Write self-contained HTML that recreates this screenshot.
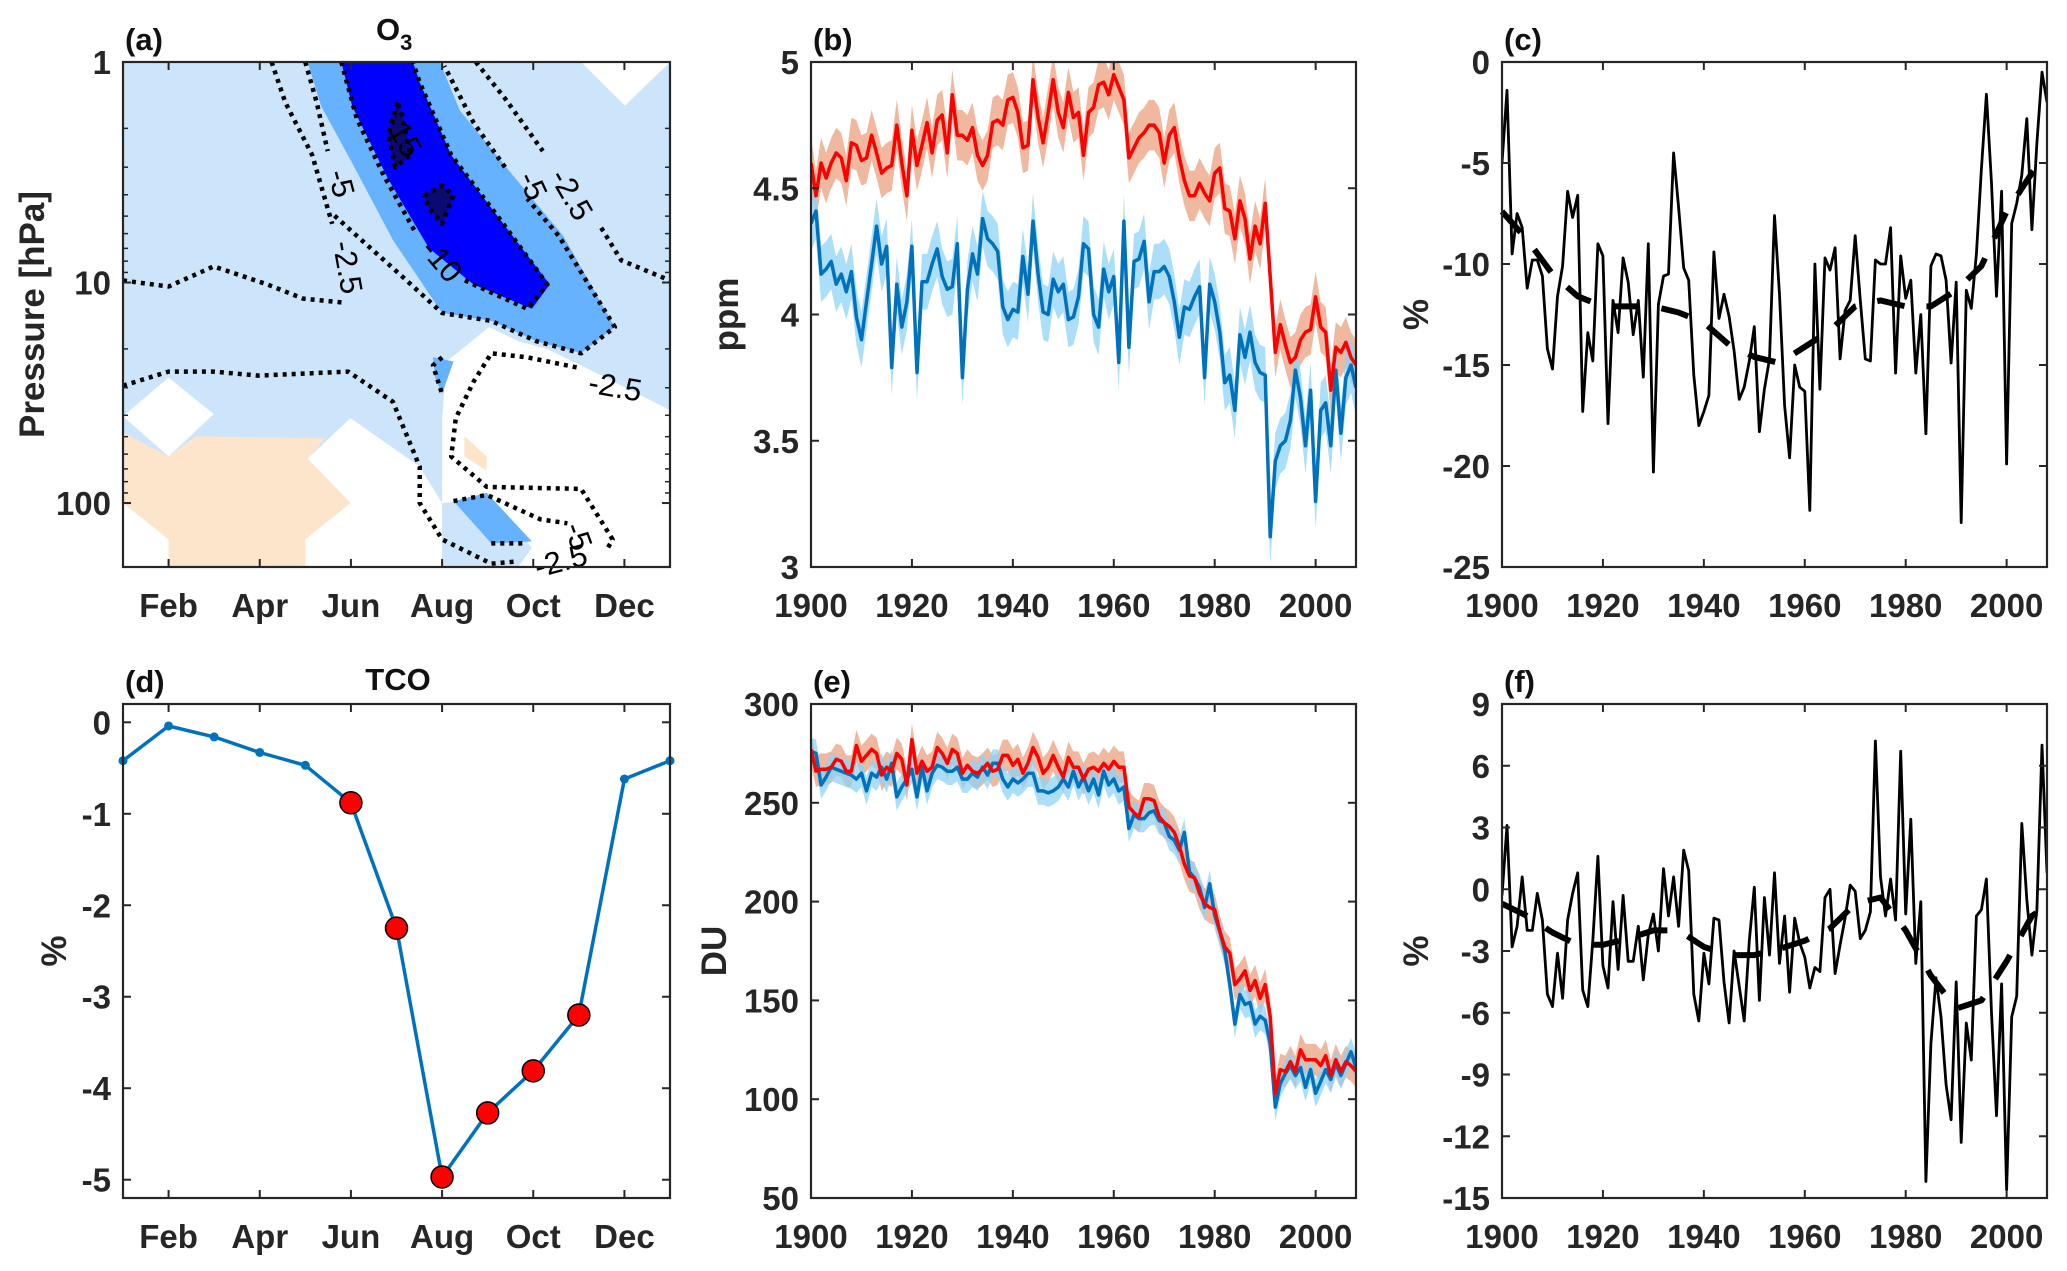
<!DOCTYPE html>
<html><head><meta charset="utf-8">
<style>
html,body{margin:0;padding:0;background:#fff;}
svg text{font-family:"Liberation Sans",Arial,sans-serif;}
</style></head>
<body>
<svg id="fig" xmlns="http://www.w3.org/2000/svg" width="2067" height="1266" viewBox="0 0 2067 1266"></svg>
<script>
// ---------- data ----------
const years = []; for (let y = 1900; y <= 2008; y++) years.push(y);
const bRed = [4.6,4.47,4.6,4.54,4.6,4.64,4.62,4.53,4.68,4.67,4.61,4.62,4.71,4.64,4.56,4.58,4.59,4.75,4.6,4.47,4.73,4.59,4.67,4.76,4.64,4.77,4.79,4.64,4.87,4.71,4.71,4.69,4.74,4.63,4.59,4.63,4.76,4.77,4.75,4.85,4.86,4.8,4.66,4.67,4.93,4.78,4.68,4.8,4.93,4.8,4.74,4.88,4.78,4.8,4.63,4.8,4.82,4.91,4.92,4.87,4.95,4.9,4.85,4.62,4.66,4.7,4.72,4.75,4.75,4.72,4.6,4.71,4.74,4.62,4.53,4.47,4.47,4.52,4.48,4.45,4.56,4.58,4.42,4.41,4.3,4.45,4.38,4.22,4.35,4.28,4.44,4.15,3.85,3.96,3.88,3.81,3.83,3.9,3.93,3.94,4.07,3.95,3.93,3.7,3.87,3.85,3.89,3.83,3.8];
const bBlue = [4.36,4.41,4.16,4.18,4.21,4.12,4.16,4.09,4.17,3.99,3.9,4.05,4.2,4.35,4.2,4.27,3.79,4.12,3.95,4.05,4.27,3.77,4.13,4.13,4.2,4.26,4.15,4.1,4.11,4.28,3.75,4.1,4.24,4.16,4.38,4.3,4.28,4.25,4.03,3.98,4.02,4.01,4.23,4.08,4.37,4.16,4.01,4.0,4.14,4.09,4.12,3.98,3.99,4.07,4.28,4.26,4.0,3.95,4.18,4.09,4.15,3.81,4.37,3.87,4.21,4.22,4.29,4.05,4.17,4.17,4.19,4.15,4.05,3.91,4.03,4.02,4.07,4.11,3.75,4.12,4.05,3.93,3.73,3.76,3.62,3.92,3.83,3.93,3.81,3.77,3.76,3.12,3.42,3.48,3.5,3.58,3.78,3.67,3.48,3.7,3.26,3.62,3.65,3.48,3.78,3.53,3.75,3.8,3.71];
const bSpread = [0.1, 0.11];
const cVals = [-5,-1.4,-9.5,-7.5,-8.2,-11.2,-9.8,-9.8,-10.6,-14.2,-15.2,-11.6,-10.1,-6.4,-7.7,-6.6,-17.3,-13.4,-14.8,-9,-9.6,-17.9,-11.8,-13.4,-9.7,-10.9,-13.5,-11.8,-15.6,-9,-20.3,-12,-10.6,-10.5,-4.5,-7.2,-10.2,-10.8,-15.5,-18,-17.3,-16.5,-9.4,-12.7,-11.5,-12.6,-14.3,-16.7,-16.1,-14.8,-13.1,-18.3,-16.2,-14.7,-7.6,-11.5,-17,-19.6,-15,-16.1,-16.3,-22.2,-10,-16.2,-9.7,-10.3,-9.2,-14.7,-12.3,-11.8,-8.6,-11.8,-14.7,-14.8,-9.8,-10,-10,-8.2,-15.4,-9.6,-11.7,-10.8,-15.4,-12.5,-18.4,-10.1,-9.5,-9.6,-10.8,-14.9,-10.9,-22.8,-11.3,-12.2,-9.5,-5.3,-1.6,-6,-11.6,-6.4,-19.9,-8,-7,-5.6,-2.8,-8.3,-4,-0.5,-2];
const trendYears = [1900,1905,1910,1915,1920,1925,1930,1935,1940,1945,1950,1955,1960,1965,1970,1975,1980,1985,1990,1995,2000,2005,2008];
const cTrend = [-7.4,-8.8,-10.5,-11.6,-12.1,-12.1,-12.1,-12.4,-12.9,-14,-14.6,-14.9,-14.1,-13.3,-12.1,-11.8,-12.1,-12.1,-11.3,-10.1,-7.4,-5.5,-4.6];
const eRed = [277,266,267,267,268,272,271,266,266,279,271,274,277,275,264,268,266,275,272,259,282,265,271,266,268,278,275,270,277,275,265,269,266,265,267,270,266,267,274,274,269,272,265,270,278,273,265,268,274,268,263,273,268,268,262,267,268,266,270,267,271,268,268,248,245,243,252,252,251,243,240,238,235,228,219,213,212,204,199,197,196,185,177,174,158,161,165,155,160,151,158,142,103,115,114,119,114,125,120,120,120,117,122,112,120,114,119,117,114];
const eBlue = [276,275,259,263,268,267,266,265,264,262,265,256,265,263,268,262,270,253,258,262,267,253,268,256,265,269,268,266,266,268,262,262,265,263,268,264,270,270,262,258,262,260,262,265,265,256,256,255,256,258,262,258,266,258,263,256,262,254,266,259,262,256,258,237,244,242,242,245,246,241,240,233,231,226,235,215,212,207,197,209,193,185,175,158,138,153,148,149,138,142,140,128,96,108,113,117,112,116,106,115,103,109,115,110,118,112,118,124,116];
const eSpread = [8, 7];
const fVals = [-0.3,3.1,-2.8,-1.8,0.6,-2,-2,-0.2,-1.5,-5.1,-5.7,-3.1,-5.3,-1.5,-0.2,0.8,-4.9,-5.7,-2.5,1.6,-3.7,-4.8,-0.6,-3.9,-0.3,-3.5,-3.5,-1.8,-4.4,-2.2,-1.2,-3,1,-1.3,0.6,-1.8,1.9,0.9,-5.1,-6.4,-3.1,-4.6,-1.4,-1.5,-4.5,-6.5,-3,-4.7,-6.4,-2.5,0.1,-5.4,-0.4,-3.2,0.8,-3.6,-1.3,-5,-1.4,-2.6,-3.3,-4.8,-3.8,-4,-0.4,0,-4.1,-2.7,-1.4,0.2,-0.1,-2.4,-2,-1.1,7.2,0.6,-1.3,0.5,-1.5,6.7,-1.2,3.4,-3.6,-0.6,-14.2,-7.5,-4.3,-6.2,-9.5,-11.2,-4.5,-12.3,-6.5,-8.3,-1.3,-1,0.5,-6,-11,-4.6,-14.6,-6.2,-5.2,3.2,-0.5,-3.2,-1,7,0.8];
const fTrend = [-0.7,-1.3,-2.1,-2.7,-2.7,-2.4,-2,-2,-2.8,-3.2,-3.2,-2.9,-2.5,-1.9,-0.7,-0.4,-2,-4.2,-5.8,-5.4,-3.5,-1.3,-0.8];
const months = [1,2,3,4,5,6,7,8,9,10,11,12,13];
const tco = [-0.42,-0.04,-0.16,-0.33,-0.47,-0.88,-2.25,-4.97,-4.27,-3.81,-3.2,-0.62,-0.42];
const tcoSignif = [0,0,0,0,0,1,1,1,1,1,1,0,0];
const monthTicks = [2,4,6,8,10,12];
const monthLabels = ["Feb","Apr","Jun","Aug","Oct","Dec"];
const yearTicks = [1900,1920,1940,1960,1980,2000];
// panel (a) contour regions in [month, log10(hPa)]
const aWhiteTR = [[11.05,0],[12.01,0.198],[13,0]];
const aWhiteDiamond = [[1,1.606],[2,1.431],[2.99,1.596],[2,1.789]];
const aPeach = [[1,1.679],[2,1.789],[2.59,1.697],[5.44,1.706],[5.05,1.798],[5.99,2.0],[5.0,2.165],[5.0,2.29],[2,2.29],[2,2.165],[1,2.0]];
const aWhiteBL = [[1,2.0],[2,2.165],[2,2.29],[1,2.29]];
const aWhiteMid = [[5.05,1.798],[5.99,1.615],[7.51,1.835],[8.0,2.0],[8.0,2.29],[5.0,2.29],[5.0,2.165],[5.99,2.0]];
const aWhiteRight = [[8.0,1.615],[8.1,1.358],[9.03,1.202],[9.67,1.266],[10.31,1.303],[11.05,1.376],[13,1.578],[13,2.29],[9.67,2.29],[9.97,2.202],[8.98,1.982],[8.0,2.0]];
const aPeachSmall = [[8.49,1.697],[8.98,1.789],[8.98,1.853],[8.49,1.789]];
const aMid = [[5.05,0],[5.35,0.202],[6.03,0.459],[6.92,0.807],[8.0,1.138],[9.08,1.174],[10.07,1.266],[11.05,1.321],[11.79,1.202],[10.66,0.789],[9.48,0.495],[8.39,0.22],[7.95,0]];
const aBlue = [[5.79,0],[6.03,0.202],[6.82,0.532],[7.71,0.844],[8.69,1.009],[9.97,1.119],[10.36,1.009],[9.28,0.716],[8.2,0.422],[7.51,0.092],[7.36,0]];
const aNavy1 = [[7.02,0.183],[6.82,0.33],[6.97,0.477],[7.31,0.422],[7.12,0.239]];
const aNavy2 = [[7.61,0.606],[8.0,0.56],[8.25,0.606],[8.0,0.734],[7.71,0.661]];
const aMidSmall = [[7.8,1.339],[8.25,1.358],[8.0,1.505],[7.85,1.431]];
const aMidLow = [[8.25,1.991],[8.98,1.954],[9.97,2.174],[9.08,2.183]];
const aContours = [
 [[4.26,0],[4.56,0.183],[5.15,0.422],[5.59,0.734]],
 [[1,0.991],[2,1.018],[2.99,0.927],[4.17,1.009],[4.95,1.073],[5.89,1.092]],
 [[5.0,0],[5.25,0.183],[5.49,0.404]],
 [[5.64,0.697],[6.43,0.844],[7.12,0.972],[8.0,1.138],[9.08,1.174],[10.07,1.266],[11.05,1.321],[11.79,1.202],[10.56,0.789],[9.87,0.62]],
 [[9.38,0.477],[8.69,0.275],[8.05,0.018]],
 [[5.79,0],[6.13,0.257],[6.72,0.514],[7.41,0.771]],
 [[8.5,0.99],[8.69,1.009],[9.87,1.119],[10.31,1.009],[9.28,0.716],[8.2,0.422],[7.51,0.092],[7.36,0]],
 [[7.02,0.183],[6.82,0.33],[6.97,0.477],[7.31,0.422],[7.12,0.239],[7.02,0.183]],
 [[7.61,0.606],[8.0,0.56],[8.25,0.606],[8.0,0.734],[7.71,0.661],[7.61,0.606]],
 [[8.74,0],[9.38,0.165],[10.21,0.404]],
 [[11.49,0.752],[11.93,0.899],[13,0.991]],
 [[1,1.468],[2,1.404],[2.99,1.404],[3.97,1.422],[5.94,1.404],[6.92,1.541],[7.51,1.835],[7.51,2.0],[8.0,2.165],[9.08,2.275],[9.57,2.266]],
 [[8.0,1.339],[7.8,1.376],[8.0,1.505]],
 [[10.95,1.385],[9.87,1.339],[9.08,1.321],[8.69,1.45],[8.3,1.615],[8.2,1.789],[8.98,1.927],[11.05,1.936],[11.74,2.165],[11.64,2.202]],
 [[8.25,1.991],[8.98,1.963],[10.16,2.074],[10.75,2.092]],
 [[9.08,2.183],[9.77,2.183]]
];
const aLabelText = ["-2.5","-5","-10","-15","-5","-2.5","-2.5","-2.5","-5"];
const aLabelPos = [[5.94,0.93],[5.8,0.55],[8.0,0.9],[7.15,0.33],[10.0,0.56],[10.85,0.6],[11.8,1.47],[10.6,2.26],[11.0,2.15]];
const aLabelRot = [80,75,50,60,65,60,10,-15,70];

// ---------- drawing ----------
const NS = "http://www.w3.org/2000/svg";
const svg = document.getElementById('fig');
function mk(tag, parent, attrs) {
  const el = document.createElementNS(NS, tag);
  for (const k in attrs) el.setAttribute(k, attrs[k]);
  parent.appendChild(el);
  return el;
}
const TXT = "#262626";
const FS = 33;
function lin(d0, d1, p0, p1) { return v => p0 + (v - d0) / (d1 - d0) * (p1 - p0); }

function makeAxes(name, L, T, W, H, xd, yd) {
  const g = mk('g', svg, {});
  
  
  return { g, L, T, W, H, x: lin(xd[0], xd[1], L, L + W), y: lin(yd[0], yd[1], T + H, T) };
}
function frame(ax, name) {
  const r = mk('rect', ax.g, { x: ax.L, y: ax.T, width: ax.W, height: ax.H, fill: 'none', stroke: TXT, 'stroke-width': 2.2 });
  
  
}
function xTicks(ax, vals, labels, name) {
  vals.forEach((v, i) => {
    const px = ax.x(v);
    const t1 = mk('line', ax.g, { x1: px, x2: px, y1: ax.T + ax.H, y2: ax.T + ax.H - 8, stroke: TXT, 'stroke-width': 2 });
    
    
    const t2 = mk('line', ax.g, { x1: px, x2: px, y1: ax.T, y2: ax.T + 8, stroke: TXT, 'stroke-width': 2 });
    
    
    const tx = mk('text', ax.g, { x: px, y: ax.T + ax.H + 50, 'text-anchor': 'middle', 'font-size': FS, 'font-weight': 'bold', fill: TXT });
    tx.textContent = labels[i];
    
    
  });
}
function yTicks(ax, vals, labels, name) {
  vals.forEach((v, i) => {
    const py = ax.y(v);
    const t1 = mk('line', ax.g, { x1: ax.L, x2: ax.L + 8, y1: py, y2: py, stroke: TXT, 'stroke-width': 2 });
    
    
    const t2 = mk('line', ax.g, { x1: ax.L + ax.W, x2: ax.L + ax.W - 8, y1: py, y2: py, stroke: TXT, 'stroke-width': 2 });
    
    
    const tx = mk('text', ax.g, { x: ax.L - 12, y: py + 12, 'text-anchor': 'end', 'font-size': FS, 'font-weight': 'bold', fill: TXT });
    tx.textContent = labels[i];
    
    
  });
}
function yLabel(ax, x, text, name) {
  const cy = ax.T + ax.H / 2;
  const t = mk('text', ax.g, { x: x, y: cy, 'text-anchor': 'middle', 'font-size': 35, 'font-weight': 'bold', fill: TXT, transform: `rotate(-90 ${x} ${cy})` });
  t.textContent = text;
  
  
}
function panelLabel(ax, text, name) {
  const t = mk('text', ax.g, { x: ax.L + 2, y: ax.T - 12, 'font-size': 31, 'font-weight': 'bold', fill: '#111' });
  t.textContent = text;
  
  
}
function polyline(ax, xs, ys, attrs, nm) {
  const pts = xs.map((v, i) => ax.x(v).toFixed(1) + ',' + ax.y(ys[i]).toFixed(1)).join(' ');
  const p = mk('polyline', ax.g, Object.assign({ points: pts, fill: 'none', 'stroke-linejoin': 'round' }, attrs));
  
  
  return p;
}
function band(ax, xs, ys, sp, fill, nm) {
  const up = xs.map((v, i) => ax.x(v).toFixed(1) + ',' + ax.y(ys[i] + sp).toFixed(1));
  const dn = xs.map((v, i) => ax.x(v).toFixed(1) + ',' + ax.y(ys[i] - sp).toFixed(1)).reverse();
  const p = mk('polygon', ax.g, { points: up.concat(dn).join(' '), fill: fill, 'fill-opacity': 0.75, stroke: 'none' });
  
  
}
const defs = mk('defs', svg, {});
function clip(id, ax) {
  const cp = mk('clipPath', defs, { id: id });
  mk('rect', cp, { x: ax.L, y: ax.T, width: ax.W, height: ax.H });
}

const ROW1 = [62, 505], ROW2 = [704, 494];
const COL = [123, 811, 1502], CW = [547, 545, 545];

// ---- panel a ----
(function () {
  const ax = makeAxes('panel-a-o3-contour', COL[0], ROW1[0], CW[0], ROW1[1], [1, 13], [2.29, 0]);
  ax.y = lin(0, 2.29, ax.T, ax.T + ax.H);
  clip('clipA', ax);
  const cg = mk('g', ax.g, { 'clip-path': 'url(#clipA)' });
  
  
  const bg = mk('rect', cg, { x: ax.L, y: ax.T, width: ax.W, height: ax.H, fill: '#cce5fb' });
  
  
  const regions = [[aWhiteTR, '#ffffff', 'white-region'], [aWhiteDiamond, '#ffffff', 'white-region'], [aPeach, '#fde5cc', 'positive-region'], [aWhiteBL, '#ffffff', 'white-region'], [aWhiteMid, '#ffffff', 'white-region'], [aWhiteRight, '#ffffff', 'white-region'], [aPeachSmall, '#fde5cc', 'positive-region'], [aMid, '#66b2ff', 'fill-minus-5-level'], [aBlue, '#0000ff', 'fill-minus-10-level'], [aNavy1, '#0a0a70', 'fill-minus-15-level'], [aNavy2, '#0a0a70', 'fill-minus-15-level'], [aMidSmall, '#66b2ff', 'fill-minus-5-level'], [aMidLow, '#66b2ff', 'fill-minus-5-level']];
  regions.forEach(r => {
    const p = mk('polygon', cg, { points: r[0].map(q => ax.x(q[0]).toFixed(1) + ',' + ax.y(q[1]).toFixed(1)).join(' '), fill: r[1] });
    
    
  });
  aContours.forEach(c => {
    polyline(ax, c.map(q => q[0]), c.map(q => q[1]), { stroke: '#000', 'stroke-width': 4.5, 'stroke-dasharray': '4 5' }, 'contour-line');
  });
  aLabelText.forEach((t, i) => {
    const px = ax.x(aLabelPos[i][0]), py = ax.y(aLabelPos[i][1]);
    const tx = mk('text', ax.g, { x: px, y: py + 11, 'text-anchor': 'middle', 'font-size': 31, fill: '#000', transform: `rotate(${aLabelRot[i]} ${px} ${py})` });
    tx.textContent = t;
    
    
  });
  for (let d = 0; d < 3; d++) for (let k = 2; k <= 9; k++) {
    const lp = d + Math.log10(k); if (lp > 2.29) continue;
    const py = ax.y(lp);
    [[ax.L, ax.L + 5], [ax.L + ax.W, ax.L + ax.W - 5]].forEach(s => {
      const t = mk('line', ax.g, { x1: s[0], x2: s[1], y1: py, y2: py, stroke: TXT, 'stroke-width': 1.5 });
      
      
    });
  }
  frame(ax, 'panel-a');
  xTicks(ax, monthTicks, monthLabels, 'panel-a');
  yTicks(ax, [0, 1, 2], ['1', '10', '100'], 'panel-a');
  yLabel(ax, 44, 'Pressure [hPa]', 'panel-a');
  panelLabel(ax, '(a)', 'panel-a');
  const tt = mk('text', ax.g, { x: 376, y: 40, 'font-size': 31, 'font-weight': 'bold', fill: '#111' });
  tt.innerHTML = 'O<tspan font-size="22" dy="10">3</tspan>';
  
  
})();

// ---- panel b ----
(function () {
  const ax = makeAxes('panel-b-ppm-timeseries', COL[1], ROW1[0], CW[1], ROW1[1], [1900, 2008], [3, 5]);
  clip('clipB', ax);
  band(ax, years, bRed, bSpread[0], '#e9a07f', 'red-uncertainty-band');
  band(ax, years, bBlue, bSpread[1], '#8fd3f5', 'blue-uncertainty-band');
  ax.g.querySelectorAll('polygon').forEach(p => p.setAttribute('clip-path', 'url(#clipB)'));
  polyline(ax, years, bBlue, { stroke: '#0072bd', 'stroke-width': 3.5, 'clip-path': 'url(#clipB)' }, 'blue-series-line');
  polyline(ax, years, bRed, { stroke: '#ff0000', 'stroke-width': 3.5, 'clip-path': 'url(#clipB)' }, 'red-series-line');
  frame(ax, 'panel-b');
  xTicks(ax, yearTicks, yearTicks.map(String), 'panel-b');
  yTicks(ax, [3, 3.5, 4, 4.5, 5], ['3', '3.5', '4', '4.5', '5'], 'panel-b');
  yLabel(ax, 738, 'ppm', 'panel-b');
  panelLabel(ax, '(b)', 'panel-b');
})();

// ---- panel c ----
(function () {
  const ax = makeAxes('panel-c-percent-timeseries', COL[2], ROW1[0], CW[2], ROW1[1], [1900, 2008], [-25, 0]);
  clip('clipC', ax);
  polyline(ax, years, cVals, { stroke: '#000', 'stroke-width': 2.8, 'clip-path': 'url(#clipC)' }, 'percent-change-line');
  polyline(ax, trendYears, cTrend, { stroke: '#000', 'stroke-width': 6, 'stroke-dasharray': '28 22' }, 'trend-dashed-line');
  frame(ax, 'panel-c');
  xTicks(ax, yearTicks, yearTicks.map(String), 'panel-c');
  yTicks(ax, [-25, -20, -15, -10, -5, 0], ['-25', '-20', '-15', '-10', '-5', '0'], 'panel-c');
  yLabel(ax, 1428, '%', 'panel-c');
  panelLabel(ax, '(c)', 'panel-c');
})();

// ---- panel d ----
(function () {
  const ax = makeAxes('panel-d-tco-seasonal', COL[0], ROW2[0], CW[0], ROW2[1], [1, 13], [-5.2, 0.2]);
  polyline(ax, months, tco, { stroke: '#0072bd', 'stroke-width': 3.5 }, 'tco-line');
  months.forEach((m, i) => {
    const c = tcoSignif[i]
      ? mk('circle', ax.g, { cx: ax.x(m), cy: ax.y(tco[i]), r: 11, fill: '#ff0000', stroke: '#000', 'stroke-width': 1.5 })
      : mk('circle', ax.g, { cx: ax.x(m), cy: ax.y(tco[i]), r: 4.5, fill: '#0072bd' });
    
    
  });
  frame(ax, 'panel-d');
  xTicks(ax, monthTicks, monthLabels, 'panel-d');
  yTicks(ax, [-5, -4, -3, -2, -1, 0], ['-5', '-4', '-3', '-2', '-1', '0'], 'panel-d');
  yLabel(ax, 66, '%', 'panel-d');
  panelLabel(ax, '(d)', 'panel-d');
  const tt = mk('text', ax.g, { x: 398, y: ROW2[0] - 14, 'text-anchor': 'middle', 'font-size': 31, 'font-weight': 'bold', fill: '#111' });
  tt.textContent = 'TCO';
  
  
})();

// ---- panel e ----
(function () {
  const ax = makeAxes('panel-e-du-timeseries', COL[1], ROW2[0], CW[1], ROW2[1], [1900, 2008], [50, 300]);
  clip('clipE', ax);
  band(ax, years, eRed, eSpread[0], '#e9a07f', 'red-uncertainty-band');
  band(ax, years, eBlue, eSpread[1], '#8fd3f5', 'blue-uncertainty-band');
  ax.g.querySelectorAll('polygon').forEach(p => p.setAttribute('clip-path', 'url(#clipE)'));
  polyline(ax, years, eBlue, { stroke: '#0072bd', 'stroke-width': 3.5, 'clip-path': 'url(#clipE)' }, 'blue-series-line');
  polyline(ax, years, eRed, { stroke: '#ff0000', 'stroke-width': 3.5, 'clip-path': 'url(#clipE)' }, 'red-series-line');
  frame(ax, 'panel-e');
  xTicks(ax, yearTicks, yearTicks.map(String), 'panel-e');
  yTicks(ax, [50, 100, 150, 200, 250, 300], ['50', '100', '150', '200', '250', '300'], 'panel-e');
  yLabel(ax, 726, 'DU', 'panel-e');
  panelLabel(ax, '(e)', 'panel-e');
})();

// ---- panel f ----
(function () {
  const ax = makeAxes('panel-f-percent-timeseries', COL[2], ROW2[0], CW[2], ROW2[1], [1900, 2008], [-15, 9]);
  clip('clipF', ax);
  polyline(ax, years, fVals, { stroke: '#000', 'stroke-width': 2.8, 'clip-path': 'url(#clipF)' }, 'percent-change-line');
  polyline(ax, trendYears, fTrend, { stroke: '#000', 'stroke-width': 6, 'stroke-dasharray': '28 22' }, 'trend-dashed-line');
  frame(ax, 'panel-f');
  xTicks(ax, yearTicks, yearTicks.map(String), 'panel-f');
  yTicks(ax, [-15, -12, -9, -6, -3, 0, 3, 6, 9], ['-15', '-12', '-9', '-6', '-3', '0', '3', '6', '9'], 'panel-f');
  yLabel(ax, 1428, '%', 'panel-f');
  panelLabel(ax, '(f)', 'panel-f');
})();
</script>
</body></html>
